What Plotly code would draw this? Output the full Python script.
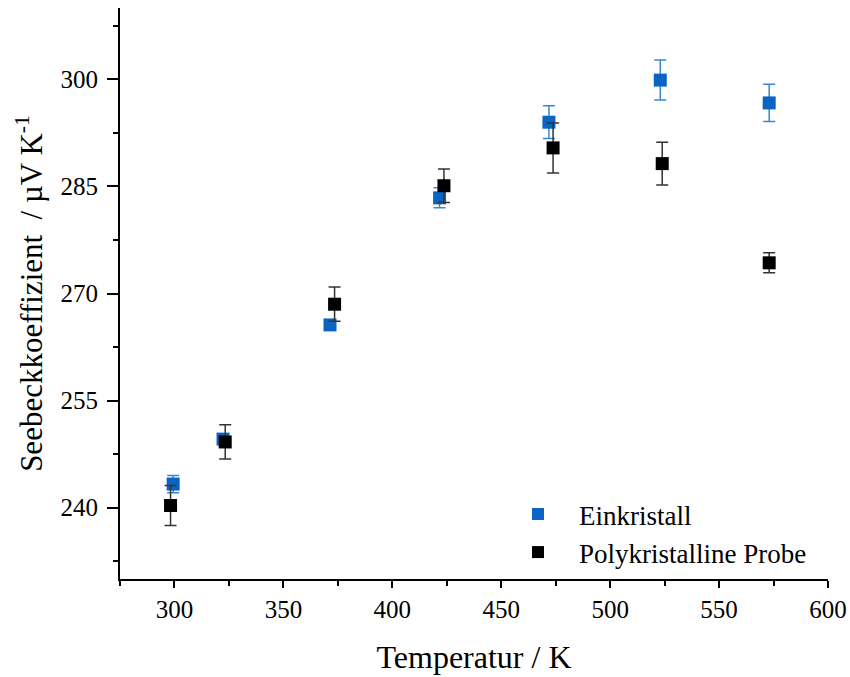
import plotly.graph_objects as go

# Data
T_ein = [299.4, 322.3, 371.4, 421.7, 471.9, 523.0, 573.0]
S_ein = [243.3, 249.6, 265.6, 283.4, 294.0, 299.9, 296.7]
E_ein = [1.2, 0.6, 0.7, 1.4, 2.3, 2.8, 2.6]

T_poly = [298.2, 323.3, 373.5, 423.7, 473.8, 523.9, 573.0]
S_poly = [240.3, 249.2, 268.5, 285.1, 290.4, 288.2, 274.3]
E_poly = [2.8, 2.4, 2.4, 2.35, 3.5, 3.0, 1.4]

x_ticks = [300, 350, 400, 450, 500, 550, 600]
y_ticks = [240, 255, 270, 285, 300]

blue = "#0A64C4"
font_family = "Liberation Serif"

fig = go.Figure()
fig.add_trace(go.Scatter(
    x=T_ein, y=S_ein, mode="markers", name="Einkristall",
    marker=dict(symbol="square", size=13, color=blue),
    error_y=dict(type="data", array=E_ein, visible=True, color="#3A86D4", thickness=1.5, width=6),
))
fig.add_trace(go.Scatter(
    x=T_poly, y=S_poly, mode="markers", name="Polykristalline Probe",
    marker=dict(symbol="square", size=13, color="black"),
    error_y=dict(type="data", array=E_poly, visible=True, color="#333333", thickness=1.5, width=6),
))

axis_common = dict(
    showline=True, linecolor="black", linewidth=2, mirror=False,
    ticks="outside", tickwidth=2, tickcolor="black",
    showgrid=False, zeroline=False, automargin=False,
    tickfont=dict(family=font_family, size=25, color="black"),
)

fig.update_layout(
    width=850, height=677,
    plot_bgcolor="white", paper_bgcolor="white",
    margin=dict(l=120, r=22, t=8, b=98),
    font=dict(family=font_family, color="black"),
    xaxis=dict(
        range=[275, 600], tickvals=x_ticks, ticklen=7, ticklabelstandoff=0,
        minor=dict(dtick=25, tick0=275, ticks="outside", ticklen=5, tickwidth=2, tickcolor="black"),
        title=dict(text="Temperatur / K", font=dict(family=font_family, size=32), standoff=24),
        **axis_common,
    ),
    yaxis=dict(
        range=[230, 310], tickvals=y_ticks, ticklen=11, ticklabelstandoff=4,
        minor=dict(dtick=7.5, tick0=232.5, ticks="outside", ticklen=5, tickwidth=2, tickcolor="black"),
        title=dict(text="Seebeckkoeffizient  / µV K<sup>-1</sup>", font=dict(family=font_family, size=31), standoff=9),
        **axis_common,
    ),
    legend=dict(
        x=0.5325, y=0.156, xanchor="left", yanchor="top",
        bgcolor="rgba(0,0,0,0)",
        font=dict(family=font_family, size=27, color="black"),
        itemsizing="constant", itemwidth=72, tracegroupgap=0,
    ),
    showlegend=True,
)

fig.write_html(
    "out.html",
    config={"displayModeBar": False},
    post_script="document.body.style.margin='0';document.body.style.overflow='hidden';",
)
